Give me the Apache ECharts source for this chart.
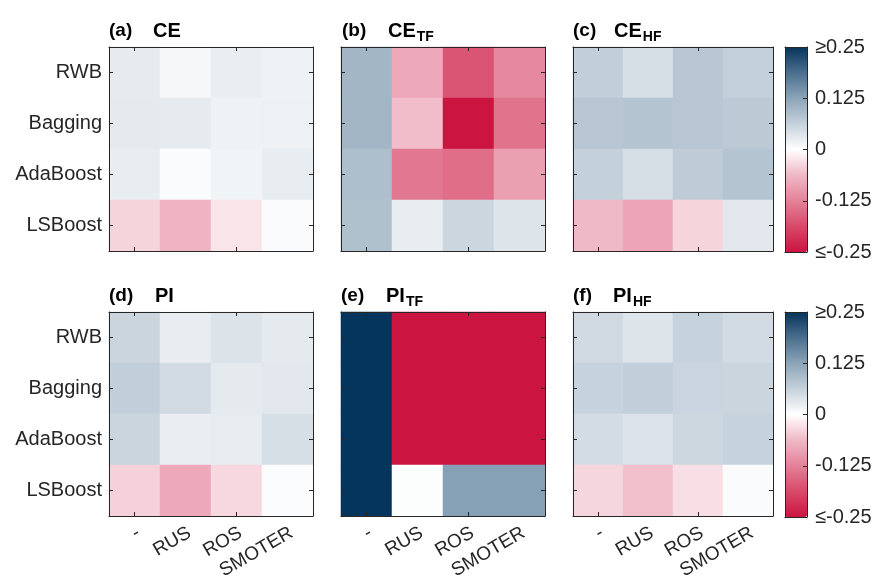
<!DOCTYPE html>
<html>
<head>
<meta charset="utf-8">
<script src="https://cdn.jsdelivr.net/npm/echarts@6/dist/echarts.min.js"></script>
<style>html,body{margin:0;padding:0;background:#fff}#c{width:882px;height:582px}</style>
</head>
<body>
<div id="c"></div>
<script>
// ---------- data ----------
const methods = ['RWB', 'Bagging', 'AdaBoost', 'LSBoost'];
const samplers = ['-', 'RUS', 'ROS', 'SMOTER'];
const colorbarTicks = [-0.25, -0.125, 0, 0.125, 0.25];
const colorbarLabels = ['≤-0.25', '-0.125', '0', '0.125', '≥0.25'];

// rows: RWB, Bagging, AdaBoost, LSBoost ; cols: -, RUS, ROS, SMOTER
const CE = [
  [0.027, 0.011, 0.023, 0.017],
  [0.029, 0.027, 0.018, 0.019],
  [0.025, 0.006, 0.015, 0.025],
  [-0.038, -0.068, -0.024, 0.005]
];
const CE_TF = [
  [0.100, -0.080, -0.175, -0.117],
  [0.100, -0.058, -0.250, -0.140],
  [0.088, -0.136, -0.147, -0.090],
  [0.085, 0.025, 0.056, 0.036]
];
const CE_HF = [
  [0.066, 0.043, 0.078, 0.065],
  [0.078, 0.081, 0.078, 0.072],
  [0.064, 0.045, 0.069, 0.081],
  [-0.062, -0.085, -0.038, 0.031]
];
const PI = [
  [0.057, 0.024, 0.038, 0.028],
  [0.066, 0.049, 0.029, 0.032],
  [0.057, 0.023, 0.026, 0.043],
  [-0.040, -0.079, -0.034, 0.004]
];
const PI_TF = [
  [0.25, -0.25, -0.25, -0.25],
  [0.25, -0.25, -0.25, -0.25],
  [0.25, -0.25, -0.25, -0.25],
  [0.25, 0.003, 0.130, 0.130]
];
const PI_HF = [
  [0.051, 0.037, 0.060, 0.049],
  [0.060, 0.066, 0.058, 0.057],
  [0.047, 0.039, 0.054, 0.060],
  [-0.036, -0.056, -0.028, 0.006]
];

const panels = [
  { tag: '(a)', main: 'CE', sub: '', values: CE },
  { tag: '(b)', main: 'CE', sub: 'TF', values: CE_TF },
  { tag: '(c)', main: 'CE', sub: 'HF', values: CE_HF },
  { tag: '(d)', main: 'PI', sub: '', values: PI },
  { tag: '(e)', main: 'PI', sub: 'TF', values: PI_TF },
  { tag: '(f)', main: 'PI', sub: 'HF', values: PI_HF }
];

// ---------- layout / style ----------
const FONT = '"Liberation Sans", Arial, Helvetica, sans-serif';
const lineCol = '#262626';
const textCol = '#262626';
const colLeft = [109, 341, 573];
const colWidth = [204, 204, 200];
const rowTop = [47, 312];
const boxH = 204;
const cbLeft = 785, cbW = 22, cbH = 205;
const cmap = ['#cc1441', '#d84a69', '#e48199', '#f0b8c6', '#ffffff',
              '#c5d1db', '#8ba4b8', '#4a6f8f', '#05345c'];
// title positions (tag x, main x)
const titlePos = [[109, 153], [342, 388], [573, 614], [109, 155], [341, 386], [573, 613]];
const labelShiftX = 4, labelMargin = 21;

const measureCtx = document.createElement('canvas').getContext('2d');
function textW(txt, font) { measureCtx.font = font; return measureCtx.measureText(txt).width; }

const grid = [], xAxis = [], yAxis = [], series = [], graphic = [];
const lineStyle = { color: lineCol, width: 1 };

panels.forEach((p, i) => {
  const r = Math.floor(i / 3), c = i % 3;
  grid.push({ left: colLeft[c], top: rowTop[r], width: colWidth[c], height: boxH });
  const common = {
    gridIndex: i, type: 'category', z: 10,
    axisLine: { show: true, onZero: false, lineStyle },
    axisTick: { show: true, inside: true, alignWithLabel: true, length: 4, lineStyle: { color: lineCol } },
    splitLine: { show: false }
  };
  xAxis.push(Object.assign({}, common, { position: 'bottom', data: samplers, axisLabel: { show: false } }));
  xAxis.push(Object.assign({}, common, { position: 'top', data: samplers, axisLabel: { show: false } }));
  yAxis.push(Object.assign({}, common, {
    position: 'left', data: methods, inverse: true,
    axisLabel: { show: c === 0, fontSize: 20, color: textCol, fontFamily: FONT, margin: 7 }
  }));
  yAxis.push(Object.assign({}, common, {
    position: 'right', data: methods, inverse: true, axisLabel: { show: false }
  }));
  const data = [];
  p.values.forEach((row, yi) => row.forEach((v, xi) => data.push([xi, yi, v])));
  series.push({
    type: 'heatmap', xAxisIndex: 2 * i, yAxisIndex: 2 * i, data: data,
    itemStyle: { borderWidth: 0 }, emphasis: { disabled: true }, progressive: 0
  });
  // titles
  const baseY = r === 0 ? 38 : 303;
  const tp = titlePos[i];
  const tagFont = 'bold 19px ' + FONT, mainFont = 'bold 20px ' + FONT, subFont = 'bold 14px ' + FONT;
  graphic.push({ type: 'text', x: tp[0], y: baseY - 6.8, style: { text: p.tag, font: tagFont, fill: '#000', verticalAlign: 'middle' } });
  graphic.push({ type: 'text', x: tp[1], y: baseY - 7, style: { text: p.main, font: mainFont, fill: '#000', verticalAlign: 'middle' } });
  if (p.sub) {
    const sx = tp[1] + textW(p.main, mainFont) + 1;
    graphic.push({ type: 'text', x: sx, y: baseY + 4 - 5, style: { text: p.sub, font: subFont, fill: '#000', verticalAlign: 'middle' } });
  }
});

// bottom-row category labels (label-only axes, slightly offset like the original)
const nPanels = panels.length;
panels.forEach((p, i) => {
  const r = Math.floor(i / 3), c = i % 3;
  if (r !== 1) return;
  const gi = grid.length;
  grid.push({ left: colLeft[c] + labelShiftX, top: rowTop[r], width: colWidth[c], height: boxH });
  xAxis.push({
    gridIndex: gi, type: 'category', data: samplers, position: 'bottom',
    axisLine: { show: false }, axisTick: { show: false }, splitLine: { show: false },
    axisLabel: { show: true, rotate: 30, fontSize: 19, color: textCol, fontFamily: FONT, margin: labelMargin, interval: 0 }
  });
  yAxis.push({ gridIndex: gi, type: 'category', data: methods, show: false });
});

// colorbar frames + ticks
const visualMap = [];
[0, 1].forEach(r => {
  const gi = grid.length;
  grid.push({ left: cbLeft, top: rowTop[r], width: cbW, height: cbH });
  const line = { show: true, onZero: false, lineStyle };
  xAxis.push({ gridIndex: gi, type: 'category', data: [''], position: 'bottom', z: 10, axisLine: line, axisTick: { show: false }, axisLabel: { show: false } });
  xAxis.push({ gridIndex: gi, type: 'category', data: [''], position: 'top', z: 10, axisLine: line, axisTick: { show: false }, axisLabel: { show: false } });
  yAxis.push({ gridIndex: gi, type: 'value', min: -0.25, max: 0.25, position: 'left', z: 10, axisLine: line, axisTick: { show: false }, axisLabel: { show: false }, splitLine: { show: false } });
  yAxis.push({
    gridIndex: gi, type: 'value', min: -0.25, max: 0.25, interval: 0.125, position: 'right', z: 10,
    axisLine: line, splitLine: { show: false },
    axisTick: { show: true, inside: true, length: 4, lineStyle: { color: lineCol } },
    axisLabel: {
      show: true, fontSize: 20, color: textCol, fontFamily: FONT, margin: 8,
      formatter: v => {
        const k = colorbarTicks.findIndex(t => Math.abs(t - v) < 1e-9);
        return k >= 0 ? colorbarLabels[k] : '';
      }
    }
  });
  visualMap.push({
    type: 'continuous', min: -0.25, max: 0.25, seriesIndex: r === 0 ? [0, 1, 2] : [3, 4, 5],
    left: cbLeft, top: rowTop[r], itemWidth: cbW, itemHeight: cbH, padding: 0,
    calculable: false, hoverLink: false, realtime: false, text: null,
    inRange: { color: cmap }, outOfRange: { color: cmap }
  });
});

const chart = echarts.init(document.getElementById('c'), null, { renderer: 'canvas' });
chart.setOption({
  animation: false,
  backgroundColor: '#ffffff',
  textStyle: { fontFamily: FONT },
  grid, xAxis, yAxis, series, visualMap, graphic
});
</script>
</body>
</html>
